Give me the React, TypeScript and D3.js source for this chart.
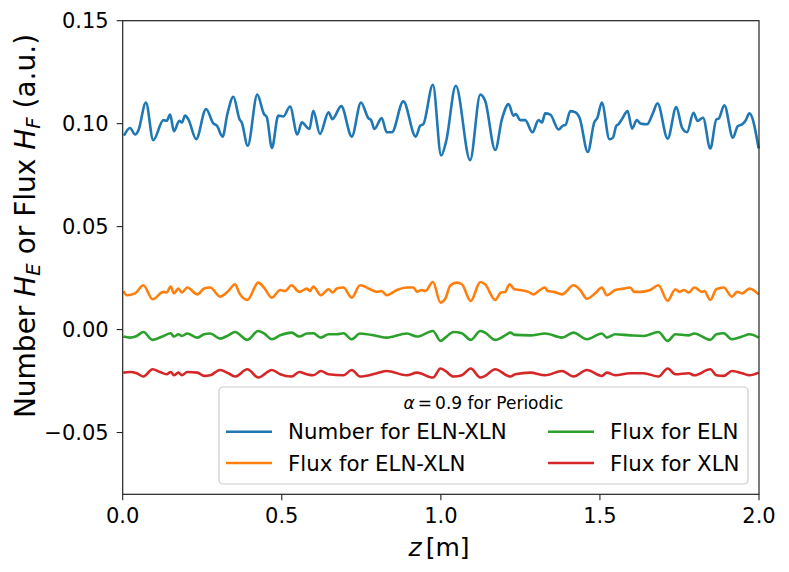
import React from "react";
import * as d3 from "d3";

// [z, value] pairs
const numberEX: [number, number][] = [
  [0.004, 0.0942], [0.023, 0.0979], [0.039, 0.0947], [0.049, 0.0966], [0.073, 0.1103], [0.096, 0.092],
  [0.128, 0.1017], [0.138, 0.1014], [0.149, 0.1044], [0.161, 0.0963], [0.178, 0.1014], [0.186, 0.1006],
  [0.196, 0.1039], [0.206, 0.1022], [0.231, 0.0925], [0.262, 0.1071], [0.285, 0.1001], [0.296, 0.099],
  [0.314, 0.0937], [0.329, 0.1047], [0.348, 0.1131], [0.367, 0.1022], [0.374, 0.1006], [0.393, 0.0893],
  [0.423, 0.1141], [0.444, 0.1047], [0.453, 0.1031], [0.469, 0.0882], [0.489, 0.1039], [0.505, 0.1035],
  [0.526, 0.1083], [0.549, 0.0947], [0.563, 0.1006], [0.587, 0.0974], [0.599, 0.1063], [0.62, 0.095],
  [0.647, 0.1055], [0.659, 0.1022], [0.687, 0.1085], [0.72, 0.0937], [0.749, 0.1103], [0.772, 0.1027],
  [0.781, 0.1017], [0.791, 0.0974], [0.814, 0.1027], [0.83, 0.0958], [0.846, 0.0958], [0.882, 0.1108],
  [0.921, 0.0937], [0.935, 0.099], [0.945, 0.0998], [0.975, 0.1189], [1.001, 0.0845], [1.017, 0.0917],
  [1.047, 0.1184], [1.092, 0.0823], [1.124, 0.1141], [1.139, 0.1112], [1.171, 0.0872], [1.192, 0.1022],
  [1.213, 0.1095], [1.228, 0.1039], [1.236, 0.1047], [1.249, 0.1017], [1.265, 0.1017], [1.288, 0.0958],
  [1.307, 0.1017], [1.318, 0.1006], [1.328, 0.105], [1.344, 0.1044], [1.37, 0.0972], [1.386, 0.0992],
  [1.391, 0.0992], [1.407, 0.1061], [1.422, 0.1056], [1.436, 0.1029], [1.462, 0.0862], [1.482, 0.1005],
  [1.492, 0.1029], [1.506, 0.1102], [1.53, 0.0924], [1.541, 0.0932], [1.551, 0.0988], [1.558, 0.0997],
  [1.569, 0.1021], [1.587, 0.1061], [1.601, 0.0976], [1.616, 0.1017], [1.627, 0.1001], [1.648, 0.0997],
  [1.667, 0.1053], [1.681, 0.1099], [1.713, 0.0927], [1.74, 0.1081], [1.758, 0.0981], [1.774, 0.0959],
  [1.794, 0.1053], [1.807, 0.1013], [1.824, 0.1029], [1.847, 0.0879], [1.866, 0.1021], [1.873, 0.1024],
  [1.891, 0.1089], [1.918, 0.0932], [1.933, 0.0988], [1.947, 0.0997], [1.957, 0.1013], [1.97, 0.105],
  [1.999, 0.0879],
];

const fluxEX: [number, number][] = [
  [0.002, 0.0187], [0.013, 0.0167], [0.039, 0.0176], [0.065, 0.0215], [0.094, 0.0147], [0.128, 0.0183],
  [0.138, 0.018], [0.151, 0.0209], [0.161, 0.0176], [0.175, 0.0199], [0.186, 0.018], [0.203, 0.0204],
  [0.235, 0.0171], [0.256, 0.0199], [0.275, 0.0204], [0.306, 0.016], [0.332, 0.0187], [0.353, 0.022],
  [0.367, 0.0176], [0.392, 0.0144], [0.426, 0.0228], [0.444, 0.0204], [0.469, 0.0155], [0.495, 0.0192],
  [0.51, 0.0187], [0.531, 0.0215], [0.555, 0.0183], [0.579, 0.0199], [0.589, 0.0187], [0.599, 0.0209],
  [0.623, 0.0167], [0.647, 0.0196], [0.66, 0.018], [0.673, 0.0199], [0.694, 0.0204], [0.72, 0.0155],
  [0.746, 0.0215], [0.778, 0.0196], [0.799, 0.0183], [0.814, 0.0187], [0.83, 0.0167], [0.862, 0.0192],
  [0.893, 0.0204], [0.914, 0.0204], [0.925, 0.0183], [0.94, 0.0192], [0.951, 0.0187], [0.975, 0.0231],
  [0.999, 0.0131], [1.014, 0.015], [1.029, 0.0212], [1.05, 0.0228], [1.066, 0.022], [1.094, 0.0139],
  [1.124, 0.0231], [1.139, 0.022], [1.171, 0.0144], [1.189, 0.018], [1.202, 0.0183], [1.216, 0.022],
  [1.231, 0.0196], [1.249, 0.0192], [1.275, 0.0183], [1.291, 0.0171], [1.307, 0.0187], [1.328, 0.0204],
  [1.335, 0.0187], [1.356, 0.0183], [1.381, 0.0171], [1.417, 0.0215], [1.438, 0.0192], [1.459, 0.015],
  [1.485, 0.0176], [1.506, 0.0204], [1.522, 0.0167], [1.548, 0.0192], [1.574, 0.0199], [1.595, 0.0204],
  [1.608, 0.0183], [1.627, 0.0183], [1.658, 0.0192], [1.684, 0.0215], [1.713, 0.0139], [1.737, 0.0196],
  [1.75, 0.0183], [1.765, 0.0192], [1.779, 0.018], [1.797, 0.0204], [1.821, 0.0183], [1.828, 0.0187],
  [1.847, 0.0144], [1.866, 0.0196], [1.889, 0.0204], [1.915, 0.016], [1.931, 0.0183], [1.947, 0.0176],
  [1.97, 0.0199], [1.999, 0.0171],
];

const fluxE: [number, number][] = [
  [0.002, -0.0034], [0.023, -0.0039], [0.044, -0.0031], [0.065, -0.0012], [0.094, -0.005], [0.128, -0.0031],
  [0.151, -0.0018], [0.161, -0.0034], [0.175, -0.0023], [0.186, -0.0031], [0.203, -0.0019], [0.235, -0.0039],
  [0.256, -0.0023], [0.275, -0.0019], [0.306, -0.0044], [0.332, -0.0028], [0.353, -0.0012], [0.392, -0.005],
  [0.426, -0.0007], [0.444, -0.0018], [0.469, -0.0047], [0.495, -0.0028], [0.531, -0.0015], [0.555, -0.0034],
  [0.579, -0.0019], [0.599, -0.0018], [0.623, -0.0039], [0.647, -0.0023], [0.673, -0.0023], [0.694, -0.0018],
  [0.72, -0.0047], [0.746, -0.0019], [0.799, -0.0031], [0.83, -0.0039], [0.893, -0.0019], [0.925, -0.0034],
  [0.975, -0.0007], [0.999, -0.0055], [1.014, -0.0039], [1.04, -0.0012], [1.066, -0.0018], [1.094, -0.005],
  [1.124, -0.0007], [1.139, -0.0015], [1.171, -0.005], [1.202, -0.0028], [1.218, -0.0015], [1.234, -0.0026],
  [1.281, -0.0028], [1.328, -0.0019], [1.381, -0.0039], [1.417, -0.0015], [1.459, -0.0047], [1.506, -0.0019],
  [1.522, -0.0039], [1.548, -0.0023], [1.595, -0.0028], [1.637, -0.0031], [1.684, -0.0012], [1.713, -0.0055],
  [1.737, -0.0023], [1.779, -0.0028], [1.797, -0.0019], [1.847, -0.005], [1.866, -0.0023], [1.889, -0.0018],
  [1.915, -0.0047], [1.947, -0.0034], [1.97, -0.0023], [1.999, -0.0039],
];

const fluxX: [number, number][] = [
  [0.002, -0.0209], [0.023, -0.0206], [0.044, -0.0212], [0.065, -0.0228], [0.094, -0.0193], [0.117, -0.0206],
  [0.138, -0.0217], [0.151, -0.0206], [0.161, -0.0222], [0.175, -0.0209], [0.186, -0.0222], [0.203, -0.0206],
  [0.235, -0.0209], [0.256, -0.0225], [0.275, -0.0222], [0.306, -0.0196], [0.332, -0.0212], [0.353, -0.0228],
  [0.392, -0.0193], [0.426, -0.0233], [0.469, -0.0196], [0.495, -0.0217], [0.531, -0.0228], [0.555, -0.0206],
  [0.579, -0.0217], [0.599, -0.0222], [0.623, -0.0201], [0.647, -0.0217], [0.694, -0.0222], [0.72, -0.0196],
  [0.746, -0.0228], [0.799, -0.0212], [0.83, -0.0201], [0.893, -0.0222], [0.925, -0.0209], [0.975, -0.0233],
  [0.999, -0.0189], [1.014, -0.0201], [1.04, -0.0228], [1.066, -0.0222], [1.094, -0.0189], [1.124, -0.0233],
  [1.139, -0.0225], [1.171, -0.0193], [1.218, -0.0228], [1.234, -0.0217], [1.281, -0.0209], [1.328, -0.0222],
  [1.381, -0.0201], [1.417, -0.0228], [1.459, -0.0196], [1.506, -0.0225], [1.522, -0.0209], [1.548, -0.0222],
  [1.595, -0.0212], [1.637, -0.0212], [1.684, -0.0228], [1.713, -0.0189], [1.737, -0.0217], [1.779, -0.0212],
  [1.797, -0.0222], [1.847, -0.0193], [1.866, -0.0222], [1.889, -0.0225], [1.915, -0.0201], [1.947, -0.0212],
  [1.97, -0.0222], [1.999, -0.0209],
];

const xTicks = [0, 0.5, 1.0, 1.5, 2.0];
const yTicks = [-0.05, 0, 0.05, 0.1, 0.15];

const series = [
  { name: "Number for ELN-XLN", data: numberEX, color: "#1f77b4" },
  { name: "Flux for ELN-XLN", data: fluxEX, color: "#ff7f0e" },
  { name: "Flux for ELN", data: fluxE, color: "#2ca02c" },
  { name: "Flux for XLN", data: fluxX, color: "#d62728" },
];

const W = 789;
const H = 572;
const margin = { left: 122.7, right: 30, top: 20.7, bottom: 77.7 };
const font = "DejaVu Sans";

const App: React.FC = () => {
  const x = d3.scaleLinear().domain([0, 2]).range([margin.left, W - margin.right]);
  const y = d3.scaleLinear().domain([-0.08, 0.15]).range([H - margin.bottom, margin.top]);
  const line = d3
    .line<[number, number]>()
    .x((d) => x(d[0]))
    .y((d) => y(d[1]))
    .curve(d3.curveMonotoneX);

  const x0 = x(0);
  const x1 = x(2);
  const yTop = y(0.15);
  const yBot = y(-0.08);

  // legend layout (two columns: first two series left, last two right)
  const lg = { x: 219, y: 387, w: 529, h: 97 };
  const cols = [226, 548];
  const rows = [431.7, 463];

  return (
    <svg
      width={W}
      height={H}
      style={{ position: "absolute", left: 0, top: 0, background: "#fff" }}
      fontFamily={font}
    >
      {series.map((s) => (
        <path key={s.name} d={line(s.data) || ""} fill="none" stroke={s.color} strokeWidth={2.6} strokeLinejoin="round" />
      ))}

      {/* spines */}
      <rect x={x0} y={yTop} width={x1 - x0} height={yBot - yTop} fill="none" stroke="#222" strokeWidth={1.2} />

      {/* y ticks */}
      {yTicks.map((t) => (
        <g key={"y" + t}>
          <line x1={x0 - 6} x2={x0} y1={y(t)} y2={y(t)} stroke="#222" strokeWidth={1.1} />
          <text x={x0 - 14} y={y(t)} dy="0.36em" textAnchor="end" fontSize={21} fill="#000">
            {d3.format(".2f")(t).replace("-", "\u2212")}
          </text>
        </g>
      ))}

      {/* x ticks */}
      {xTicks.map((t) => (
        <g key={"x" + t}>
          <line x1={x(t)} x2={x(t)} y1={yBot} y2={yBot + 6} stroke="#222" strokeWidth={1.1} />
          <text x={x(t)} y={yBot + 29} textAnchor="middle" fontSize={21} fill="#000">
            {d3.format(".1f")(t)}
          </text>
        </g>
      ))}

      {/* axis labels */}
      <text x={439} y={556} textAnchor="middle" fontSize={25} fill="#000">
        <tspan fontStyle="italic">z</tspan>
        <tspan dx={4}>[m]</tspan>
      </text>
      <text transform="translate(35,226) rotate(-90)" textAnchor="middle" fontSize={28} fill="#000">
        Number <tspan fontStyle="italic">H</tspan>
        <tspan fontSize={19.6} fontStyle="italic" dy={5}>E</tspan>
        <tspan dy={-5}> or Flux </tspan>
        <tspan fontStyle="italic">H</tspan>
        <tspan fontSize={19.6} fontStyle="italic" dy={5}>F</tspan>
        <tspan dy={-5}> (a.u.)</tspan>
      </text>

      {/* legend */}
      <rect x={lg.x} y={lg.y} width={lg.w} height={lg.h} rx={4} fill="#fff" fillOpacity={0.8} stroke="#cccccc" strokeWidth={1.2} />
      <text x={lg.x + lg.w / 2} y={409} textAnchor="middle" fontSize={17} fill="#000">
        <tspan fontStyle="italic">α</tspan>
        <tspan dx={3}>=</tspan>
        <tspan dx={3}>0.9 for Periodic</tspan>
      </text>
      {series.map((s, i) => {
        const cx = cols[Math.floor(i / 2)];
        const cy = rows[i % 2];
        return (
          <g key={"lg" + s.name}>
            <line x1={cx} x2={cx + 46} y1={cy} y2={cy} stroke={s.color} strokeWidth={2.6} />
            <text x={cx + 62} y={cy} dy="0.36em" fontSize={21.3} fill="#000">
              {s.name}
            </text>
          </g>
        );
      })}
    </svg>
  );
};

export default App;
